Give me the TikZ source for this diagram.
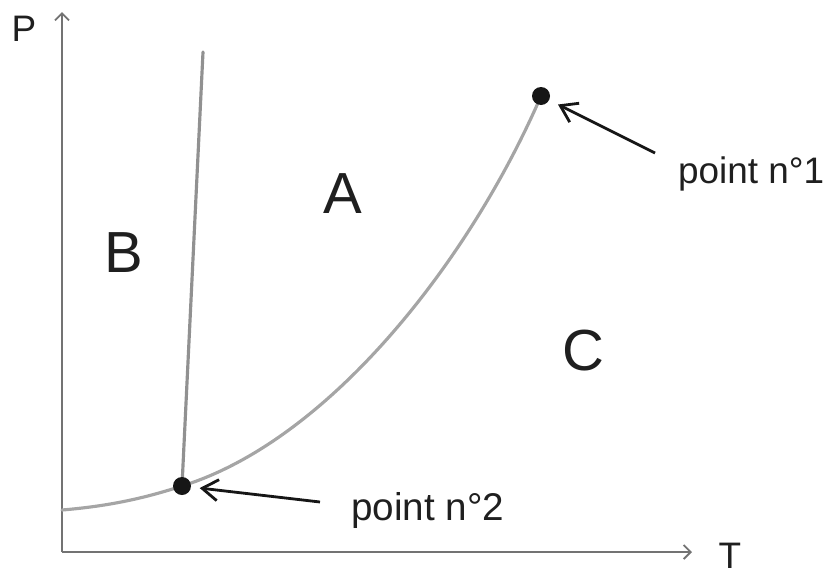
\documentclass[tikz,border=0pt]{standalone}
\usepackage{fontspec}
\setmainfont{Liberation Sans}
\usetikzlibrary{arrows.meta,positioning}
\definecolor{axiscolor}{RGB}{115,115,115}
\definecolor{curvecolor}{RGB}{165,165,165}
\definecolor{dotcolor}{RGB}{22,22,22}
\tikzset{
  axisln/.style={-{Straight Barb[length=4pt,width=8pt]}, line width=1.1pt, axiscolor},
  curveln/.style={line width=1.8pt, line cap=round, line join=round, curvecolor},
  pointer/.style={-{Straight Barb[length=9pt,width=12pt]}, line width=1.6pt, dotcolor},
  phasept/.style={circle, fill=dotcolor, inner sep=0pt, minimum size=0.36cm},
  region/.style={font=\fontsize{33}{33}\selectfont, anchor=base, text=black!88},
  axlabel/.style={font=\fontsize{21}{21}\selectfont, anchor=base, text=black!88},
  ptlabel/.style={font=\fontsize{21}{21}\selectfont, anchor=base west, text=black!88},
}

\begin{document}
\begin{tikzpicture}[x=0.02cm, y=-0.02cm]
  \useasboundingbox (0,0) rectangle (825,572);
  % axes
  \coordinate (origin) at (62,552);
  \coordinate (ptop) at (62,12);
  \coordinate (tend) at (692,552);
  \draw[axisln] (origin) -- (ptop);
  \draw[axisln] (origin) -- (tend);
  \node[axlabel] (plab) at (24,41) {P};
  \node[axlabel] (tlab) at (730,568) {T};
  % boundary curves
  \draw[curveln] (62,510) .. controls (110,506) and (145,498) .. (182,486)
    .. controls (330,440) and (470,260) .. (541,96);
  \draw[curveln, curvecolor!88!black] (182,486) -- (203,52);
  % regions
  \node[region] (rega) at (343,213) {A};
  \node[region] (regb) at (124,272) {B};
  \node[region] (regc) at (583,370) {C};
  % the two points and their labels
  \node[phasept] (pt1) at (541,96) {};
  \node[phasept] (pt2) at (182,486) {};
  \node[ptlabel] (lab1) at (672,183) {point n°1};
  \node[ptlabel, font=\fontsize{22}{22}\selectfont] (lab2) at (345,520) {point n°2};
  \coordinate (tail1) at (655,153);
  \coordinate (tail2) at (320,502);
  \draw[pointer, shorten >=5.5pt] (tail1) -- (pt1);
  \draw[pointer, shorten >=4.8pt] (tail2) -- (pt2);
\end{tikzpicture}
\end{document}
